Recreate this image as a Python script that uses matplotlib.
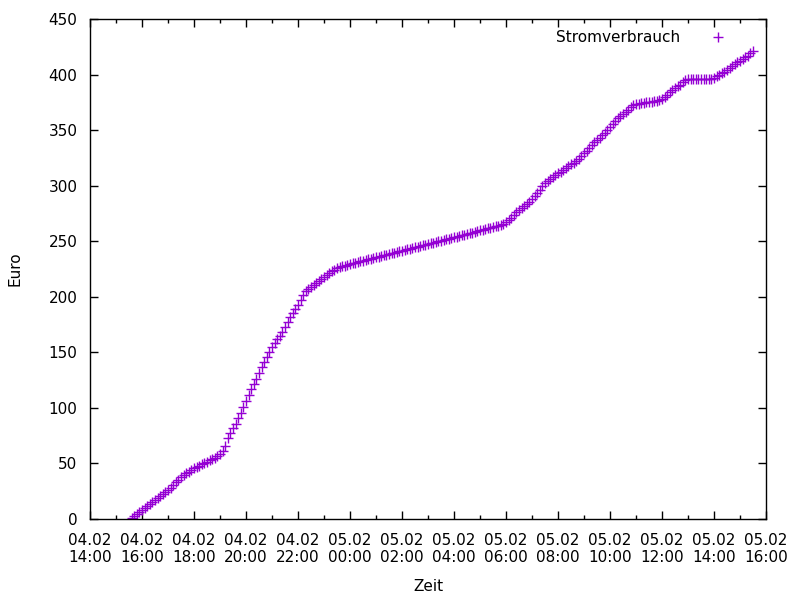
import matplotlib
matplotlib.use("Agg")
import matplotlib.pyplot as plt
import matplotlib.dates as mdates
import numpy as np
from datetime import datetime, timedelta

plt.rcParams['font.family'] = ['DejaVu Sans']

# Messbeginn und Messintervall (6 Minuten)
start_time = datetime(2013, 2, 4, 15, 36)
interval_min = 6

# Stromverbrauch in Euro (je Zeile eine Stunde, 10 Werte)
euro = [
    1.0, 2.5, 4.3, 6.0,
    8.0, 9.8, 11.6, 13.4, 15.2, 17.0, 18.8, 20.6, 22.4, 24.2,
    26.0, 28.3, 30.6, 32.9, 35.2, 37.6, 39.5, 41.1, 42.7, 44.2,
    45.6, 46.8, 48.0, 49.2, 50.4, 51.6, 52.8, 54.0, 55.2, 56.3,
    58.5, 61.5, 66.0, 72.5, 77.5, 81.5, 85.5, 90.5, 95.5, 101.0,
    106.5, 112.0, 116.7, 121.3, 126.2, 131.5, 137.0, 141.5, 146.2, 150.5,
    154.6, 158.8, 162.0, 165.0, 168.5, 173.0, 177.6, 181.5, 185.0, 188.8,
    193.0, 197.2, 201.5, 205.0, 207.0, 209.0, 210.8, 212.5, 214.3, 216.0,
    218.0, 219.8, 221.5, 223.0, 224.5, 225.7, 226.6, 227.4, 228.1, 228.8,
    229.4, 230.0, 230.6, 231.2, 231.8, 232.4, 233.0, 233.6, 234.2, 234.8,
    235.5, 236.1, 236.7, 237.3, 237.9, 238.5, 239.1, 239.7, 240.3, 240.9,
    241.5, 242.1, 242.7, 243.3, 243.9, 244.5, 245.1, 245.7, 246.3, 246.9,
    247.6, 248.2, 248.8, 249.4, 250.0, 250.6, 251.2, 251.8, 252.4, 253.0,
    253.6, 254.2, 254.8, 255.4, 256.0, 256.6, 257.2, 257.8, 258.4, 259.0,
    259.7, 260.3, 260.9, 261.5, 262.1, 262.7, 263.3, 264.0, 264.6, 265.6,
    267.0, 268.8, 271.0, 274.0, 276.0, 278.0, 280.0, 281.5, 283.5, 285.5,
    288.0, 290.5, 293.5, 296.5, 299.8, 302.0, 304.0, 305.8, 307.5, 309.3,
    311.0, 312.7, 314.4, 316.1, 317.8, 319.3, 320.8, 322.3, 324.0, 326.5,
    329.0, 331.6, 334.3, 336.7, 339.0, 341.3, 343.3, 345.3, 347.3, 350.0,
    352.8, 355.5, 358.0, 360.5, 362.5, 364.5, 366.5, 368.5, 370.5, 372.3,
    373.3, 373.9, 374.4, 374.8, 375.1, 375.4, 375.7, 376.0, 376.3, 376.9,
    378.0, 379.8, 382.0, 384.4, 386.3, 388.0, 389.5, 391.0, 393.0, 395.0,
    395.7, 395.7, 395.7, 395.7, 395.7, 395.7, 395.7, 395.7, 395.7, 396.2,
    397.3, 398.7, 400.0, 401.3, 402.7, 404.2, 405.8, 407.5, 409.2, 411.0,
    412.5, 414.0, 415.5, 417.0, 419.0, 421.0,
]

series_label = "Stromverbrauch"
x_label = "Zeit"
y_label = "Euro"
y_ticks = [0, 50, 100, 150, 200, 250, 300, 350, 400, 450]

times = [start_time + timedelta(minutes=interval_min * i) for i in range(len(euro))]

fig = plt.figure(figsize=(8, 6), dpi=100)
ax = fig.add_axes([90 / 800, 1 - 519 / 600, 676 / 800, 500 / 600])

ax.plot(times, euro, linestyle='none', marker='+', color='#9400D3',
        markersize=6.5, markeredgewidth=1.0, label=series_label)

ax.set_xlim(datetime(2013, 2, 4, 14, 0), datetime(2013, 2, 5, 16, 0))
ax.set_ylim(0, 450)
ax.set_yticks(y_ticks)

ax.xaxis.set_major_locator(mdates.HourLocator(byhour=range(0, 24, 2)))
ax.xaxis.set_minor_locator(mdates.HourLocator(byhour=range(1, 24, 2)))
ax.xaxis.set_major_formatter(mdates.DateFormatter('%d.%m\n%H:%M'))

ax.tick_params(axis='both', which='major', direction='in', length=6, width=1,
               top=True, right=True, labelsize=11)
ax.tick_params(axis='x', which='major', pad=10)
ax.tick_params(axis='x', which='minor', direction='in', length=3, width=1,
               top=True, bottom=True)
ax.tick_params(axis='y', which='major', pad=9)
for lab in ax.get_xticklabels():
    lab.set_linespacing(1.2)
for s in ax.spines.values():
    s.set_linewidth(1)

ax.set_xlabel(x_label, fontsize=11, labelpad=10)
ax.set_ylabel(y_label, fontsize=11, labelpad=19)

ax.legend(loc='upper right', frameon=False, markerfirst=False, fontsize=11,
          handlelength=2.5, handletextpad=1.24, bbox_to_anchor=(0.978, 1.005))

fig.savefig('out.png', dpi=100)
